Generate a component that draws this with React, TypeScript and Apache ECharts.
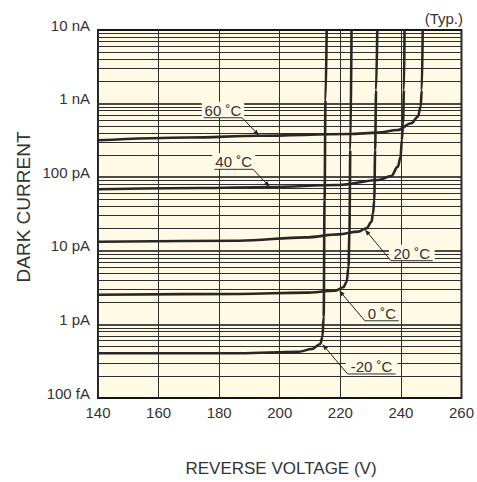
import React, { useEffect, useRef } from 'react';
import * as echarts from 'echarts';

// ---- axis data ----
const xMin = 140;
const xMax = 260;
const xInterval = 20;
const yTickValues = [0.1, 1, 10, 100, 1000, 10000]; // in pA
const yTickLabels = ['100 fA', '1 pA', '10 pA', '100 pA', '1 nA', '10 nA'];
const minorMultipliers = [2, 3, 4, 5, 6, 7, 8, 9];

// ---- series data (reverse voltage V, dark current pA) ----
const seriesNames = ['60 ˚C', '40 ˚C', '20 ˚C', '0 ˚C', '-20 ˚C'];

const voltage60 = [140, 170.2, 193.2, 222.7, 232.5, 239.0, 243.4, 245.6, 246.5, 246.9, 247.2];
const current60 = [317, 346, 366, 386, 403, 438, 540, 664, 908, 1531, 10000];

const voltage40 = [140, 173.5, 196.7, 219.4, 232.5, 236.8, 239.0, 239.9, 240.3, 240.7, 241.0, 241.2];
const current40 = [68.5, 71.3, 73.6, 78.4, 91.6, 103.8, 139, 190, 320, 540, 1531, 10000];

const voltage20 = [140, 186.6, 208.5, 219.4, 225.9, 228.6, 230.3, 230.8, 231.2, 231.5, 231.8, 232.2];
const current20 = [13.3, 13.7, 15.2, 16.7, 18.2, 20.2, 24.8, 32.4, 49.0, 234, 1531, 10000];

const voltage0 = [140, 186.6, 208.5, 218.3, 221.0, 222.1, 222.7, 223.0, 223.3, 223.7];
const current0 = [2.53, 2.59, 2.70, 2.87, 3.19, 3.80, 6.08, 17.3, 234, 10000];

const voltageM20 = [140, 186.6, 206.3, 210.6, 213.4, 214.1, 214.5, 214.8, 215.1, 215.5];
const currentM20 = [0.405, 0.405, 0.425, 0.463, 0.542, 0.681, 1.27, 49, 1119, 10000];

const voltages = [voltage60, voltage40, voltage20, voltage0, voltageM20];
const currents = [current60, current40, current20, current0, currentM20];

// ---- annotation anchors (data coordinates) ----
const labelLineV0 = [174.9, 178.4, 236.7, 228.1, 222.4];
const labelLineV1 = [187.6, 191.2, 250.5, 239.3, 238.2];
const labelLineI = [643, 128, 7.34, 1.12, 0.212];
const arrowTipV = [193.2, 196.7, 228.1, 219.6, 214.1];
const arrowTipI = [366, 73.6, 19.5, 2.9, 0.537];
const leaderFromRight = [true, true, false, false, false];

const FONT = '"Liberation Sans", Arial, Helvetica, sans-serif';
const INK = '#2a2626';
const BG = '#fefae6';

export default function App() {
  const ref = useRef<HTMLDivElement>(null);

  useEffect(() => {
    if (!ref.current) return;
    const chart = echarts.init(ref.current, undefined, { renderer: 'svg' });

    const minorGrid: number[] = [];
    for (let d = 0; d < yTickValues.length - 1; d++) {
      minorMultipliers.forEach((m) => minorGrid.push(yTickValues[d] * m));
    }

    const fmtY = (v: number) => {
      let best = 0;
      let bestD = Infinity;
      yTickValues.forEach((t, i) => {
        const dd = Math.abs(Math.log10(t) - Math.log10(v));
        if (dd < bestD) {
          bestD = dd;
          best = i;
        }
      });
      return bestD < 0.01 ? yTickLabels[best] : '';
    };

    const curveSeries = seriesNames.map((name, k) => ({
      type: 'line',
      name,
      data: voltages[k].map((v, i) => [v, currents[k][i]]),
      showSymbol: false,
      symbol: 'none',
      smooth: 0.35,
      smoothMonotone: 'x',
      clip: true,
      z: 5,
      lineStyle: { color: INK, width: 2.6 },
      silent: true,
    }));

    const option: any = {
      animation: false,
      grid: {
        left: 98,
        right: 13,
        top: 30,
        bottom: 84,
        show: true,
        backgroundColor: BG,
        borderColor: '#222',
        borderWidth: 2,
      },
      xAxis: {
        type: 'value',
        min: xMin,
        max: xMax,
        interval: xInterval,
        axisLine: { show: false },
        axisTick: { show: false },
        axisLabel: { fontSize: 15, color: '#333', fontFamily: FONT, margin: 7 },
        splitLine: { show: true, lineStyle: { color: '#2e2e2e', width: 1 } },
      },
      yAxis: {
        type: 'log',
        logBase: 10,
        min: yTickValues[0],
        max: yTickValues[yTickValues.length - 1],
        axisLine: { show: false },
        axisTick: { show: false },
        axisLabel: {
          fontSize: 15,
          color: '#333',
          fontFamily: FONT,
          margin: 8,
          verticalAlign: 'bottom',
          lineHeight: 10,
          formatter: fmtY,
          showMinLabel: true,
          showMaxLabel: true,
        },
        splitLine: { show: true, lineStyle: { color: '#111', width: 1.6 } },
      },
      series: [
        {
          type: 'line',
          name: 'grid',
          data: [[xMin, yTickValues[0]]],
          showSymbol: false,
          symbol: 'none',
          lineStyle: { opacity: 0 },
          z: 1,
          silent: true,
          markLine: {
            silent: true,
            symbol: ['none', 'none'],
            label: { show: false },
            animation: false,
            lineStyle: { color: '#2e2e2e', width: 1, type: 'solid' },
            emphasis: { disabled: true },
            data: minorGrid.map((v) => ({ yAxis: v })),
          },
        },
        ...curveSeries,
      ],
    };

    chart.setOption(option);

    const toPx = (v: number, i: number) =>
      chart.convertToPixel({ xAxisIndex: 0, yAxisIndex: 0 }, [v, i]) as number[];

    const graphics: any[] = [];
    seriesNames.forEach((t, k) => {
      const [x0, uy] = toPx(labelLineV0[k], labelLineI[k]);
      const [x1] = toPx(labelLineV1[k], labelLineI[k]);
      const [tx, ty] = toPx(arrowTipV[k], arrowTipI[k]);
      const ax = leaderFromRight[k] ? x1 : x0;
      graphics.push({
        type: 'rect',
        z: 20,
        shape: { x: x0 - 2, y: uy - 16, width: x1 - x0 + 4, height: 16 },
        style: { fill: BG },
      });
      graphics.push({
        type: 'text',
        z: 21,
        x: (x0 + x1) / 2,
        y: uy - 7.5,
        style: {
          text: t,
          fill: '#333',
          font: `15px ${FONT}`,
          textAlign: 'center',
          textVerticalAlign: 'middle',
          align: 'center',
          verticalAlign: 'middle',
        },
      });
      graphics.push({
        type: 'line',
        z: 21,
        shape: { x1: x0, y1: uy, x2: x1, y2: uy },
        style: { stroke: '#333', lineWidth: 1 },
      });
      const dx = tx - ax;
      const dy = ty - uy;
      const len = Math.hypot(dx, dy);
      const ux = dx / len;
      const uv = dy / len;
      const ah = 6;
      const aw = 2.2;
      const bx = tx - ux * ah;
      const by = ty - uv * ah;
      graphics.push({
        type: 'line',
        z: 21,
        shape: { x1: ax, y1: uy, x2: bx, y2: by },
        style: { stroke: '#222', lineWidth: 1 },
      });
      graphics.push({
        type: 'polygon',
        z: 21,
        shape: {
          points: [
            [tx, ty],
            [bx - uv * aw, by + ux * aw],
            [bx + uv * aw, by - ux * aw],
          ],
        },
        style: { fill: '#222' },
      });
    });

    graphics.push({
      type: 'text',
      z: 21,
      x: 463,
      y: 18,
      style: {
        text: '(Typ.)',
        fill: '#333',
        font: `15px ${FONT}`,
        textAlign: 'right',
        textVerticalAlign: 'middle',
        align: 'right',
        verticalAlign: 'middle',
      },
    });
    graphics.push({
      type: 'text',
      z: 21,
      x: 23,
      y: 207,
      rotation: Math.PI / 2,
      style: {
        text: 'DARK CURRENT',
        fill: '#333',
        font: `19px ${FONT}`,
        textAlign: 'center',
        textVerticalAlign: 'middle',
        align: 'center',
        verticalAlign: 'middle',
      },
    });
    graphics.push({
      type: 'text',
      z: 21,
      x: 281,
      y: 468,
      style: {
        text: 'REVERSE VOLTAGE (V)',
        fill: '#333',
        font: `17px ${FONT}`,
        textAlign: 'center',
        textVerticalAlign: 'middle',
        align: 'center',
        verticalAlign: 'middle',
      },
    });

    chart.setOption({ graphic: { elements: graphics } });

    return () => chart.dispose();
  }, []);

  return (
    <div
      ref={ref}
      style={{ position: 'absolute', left: 0, top: 0, width: 477, height: 482 }}
    />
  );
}
